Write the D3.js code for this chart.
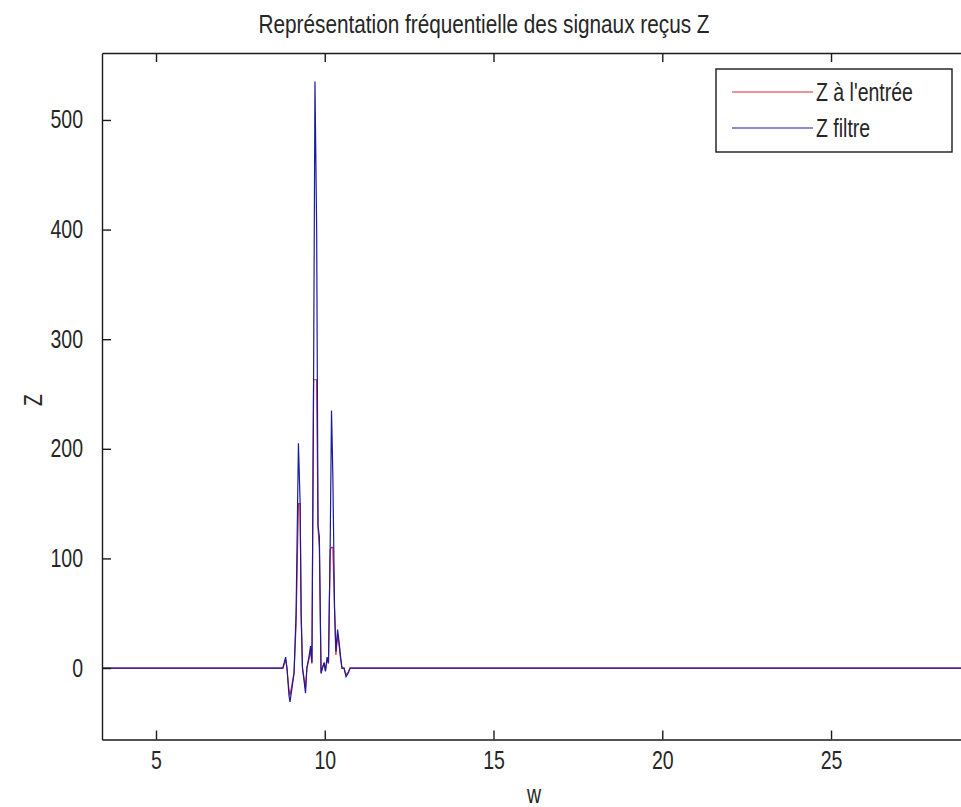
<!DOCTYPE html>
<html>
<head>
<meta charset="utf-8">
<script src="https://cdn.jsdelivr.net/npm/d3@7"></script>
<style>
	body { margin: 0; background: #fff; }
	text { font-family: "Liberation Sans", Arial, sans-serif; fill: #262626; }
</style>
</head>
<body>
<div id="chart"></div>
<script>
// abscisse w (points echantillonnes autour du paquet de pics)
var wValues = [3.4, 8.76, 8.84, 8.88, 8.94, 8.97, 9.03, 9.09, 9.15, 9.22, 9.27, 9.30, 9.34, 9.38, 9.43, 9.47,
	9.53, 9.58, 9.62, 9.67, 9.71, 9.76, 9.80, 9.84, 9.89, 9.93, 9.98, 10.02, 10.07, 10.11, 10.16, 10.20,
	10.24, 10.29, 10.33, 10.38, 10.42, 10.47, 10.51, 10.57, 10.63, 10.69, 10.75, 29];

// Z a l'entree (rouge)
var zInput = [0, 0, 8, 0, -20, -25, -15, -4, 40, 150, 150, 48, 0, -8, -18, 0,
	8, 16, 4, 263, 263, 263, 128, 110, -4, 0, 4, -2, 8, 4, 108, 110,
	110, 53, 12, 30, 22, 8, 0, 0, -6, -4, 0, 0];

// Z filtre (bleu)
var zFiltered = [0, 0, 10, 0, -25, -31, -18, -5, 50, 205, 150, 50, 0, -10, -23, 0,
	10, 20, 5, 270, 535, 400, 130, 120, -5, 0, 5, -3, 10, 5, 110, 235,
	175, 55, 15, 35, 25, 10, 0, 0, -8, -5, 0, 0];

var xTicks = [5, 10, 15, 20, 25];
var yTicks = [0, 100, 200, 300, 400, 500];

var seriesNames = ["Z à l'entrée", "Z filtre"];
var seriesColors = ["#d42a30", "#1a1a9e"];

var width = 961, height = 807;
var mLeft = 102, mTop = 53, mRight = 963, mBottom = 739.5;
var fontSize = "25px";
var squeeze = 0.78; // police etroite style matlab

var svg = d3.select("#chart")
  .append("svg")
    .attr("width", width)
    .attr("height", height);

var x = d3.scaleLinear()
    .domain([3.4, 28.91])
    .range([mLeft, mRight]);

var y = d3.scaleLinear()
    .domain([-65.2, 561.1])
    .range([mBottom, mTop]);

svg.append("clipPath")
    .attr("id", "clip")
  .append("rect")
    .attr("x", mLeft)
    .attr("y", mTop)
    .attr("width", mRight - mLeft)
    .attr("height", mBottom - mTop);

var line = d3.line()
    .x(function(d) { return x(d[0]); })
    .y(function(d) { return y(d[1]); });

var series = [zInput, zFiltered];

for(var s = 0; s < series.length; s++) {
	var pts = wValues.map(function(w, i) { return [w, series[s][i]]; });
	svg.append("path")
	    .datum(pts)
	    .attr("clip-path", "url(#clip)")
	    .attr("fill", "none")
	    .attr("stroke", seriesColors[s])
	    .attr("stroke-width", 1.2)
	    .attr("d", line);
}

// axes : ticks vers l'interieur comme matlab
svg.append("g")
    .attr("transform", "translate(0," + mBottom + ")")
    .call(d3.axisBottom(x).tickValues(xTicks).tickSizeInner(-9).tickSizeOuter(0).tickPadding(12));

svg.append("g")
    .attr("transform", "translate(0," + mTop + ")")
    .call(d3.axisTop(x).tickValues(xTicks).tickSizeInner(-9).tickSizeOuter(0).tickFormat(""));

svg.append("g")
    .attr("transform", "translate(" + mLeft + ",0)")
    .call(d3.axisLeft(y).tickValues(yTicks).tickSizeInner(-9).tickSizeOuter(0).tickPadding(19));

svg.selectAll(".domain")
    .attr("stroke", "#1a1a1a")
    .attr("stroke-width", 1.4);

svg.selectAll(".tick line")
    .attr("stroke", "#1a1a1a")
    .attr("stroke-width", 1.4);

svg.selectAll(".tick text")
    .style("font-size", fontSize)
    .style("font-family", "Liberation Sans, Arial, sans-serif")
    .attr("fill", "#262626");

// titre et labels
svg.append("text")
    .attr("class", "title")
    .attr("x", 484)
    .attr("y", 33)
    .attr("text-anchor", "middle")
    .style("font-size", fontSize)
    .text("Représentation fréquentielle des signaux reçus Z");

svg.append("text")
    .attr("x", 534)
    .attr("y", 803)
    .attr("text-anchor", "middle")
    .style("font-size", fontSize)
    .text("w");

svg.append("text")
    .attr("transform", "translate(42,400) rotate(-90)")
    .attr("text-anchor", "middle")
    .style("font-size", fontSize)
    .text("Z");

// legende
var legend = svg.append("g");

legend.append("rect")
    .attr("x", 716)
    .attr("y", 69)
    .attr("width", 236)
    .attr("height", 83)
    .attr("fill", "white")
    .attr("stroke", "#1a1a1a")
    .attr("stroke-width", 1.4);

for(var k = 0; k < seriesNames.length; k++) {
	var ly = 92 + k * 36;
	legend.append("line")
	    .attr("x1", 732)
	    .attr("x2", 813)
	    .attr("y1", ly)
	    .attr("y2", ly)
	    .attr("stroke", seriesColors[k])
	    .attr("stroke-width", 1.2);
	legend.append("text")
	    .attr("x", 816)
	    .attr("y", ly + 9)
	    .style("font-size", fontSize)
	    .text(seriesNames[k]);
}

// resserre toutes les textes (le titre un peu moins)
svg.selectAll("text").each(function() {
	var len = this.getComputedTextLength();
	var f = d3.select(this).classed("title") ? 0.83 : squeeze;
	d3.select(this)
	    .attr("textLength", len * f)
	    .attr("lengthAdjust", "spacingAndGlyphs");
});
</script>
</body>
</html>
